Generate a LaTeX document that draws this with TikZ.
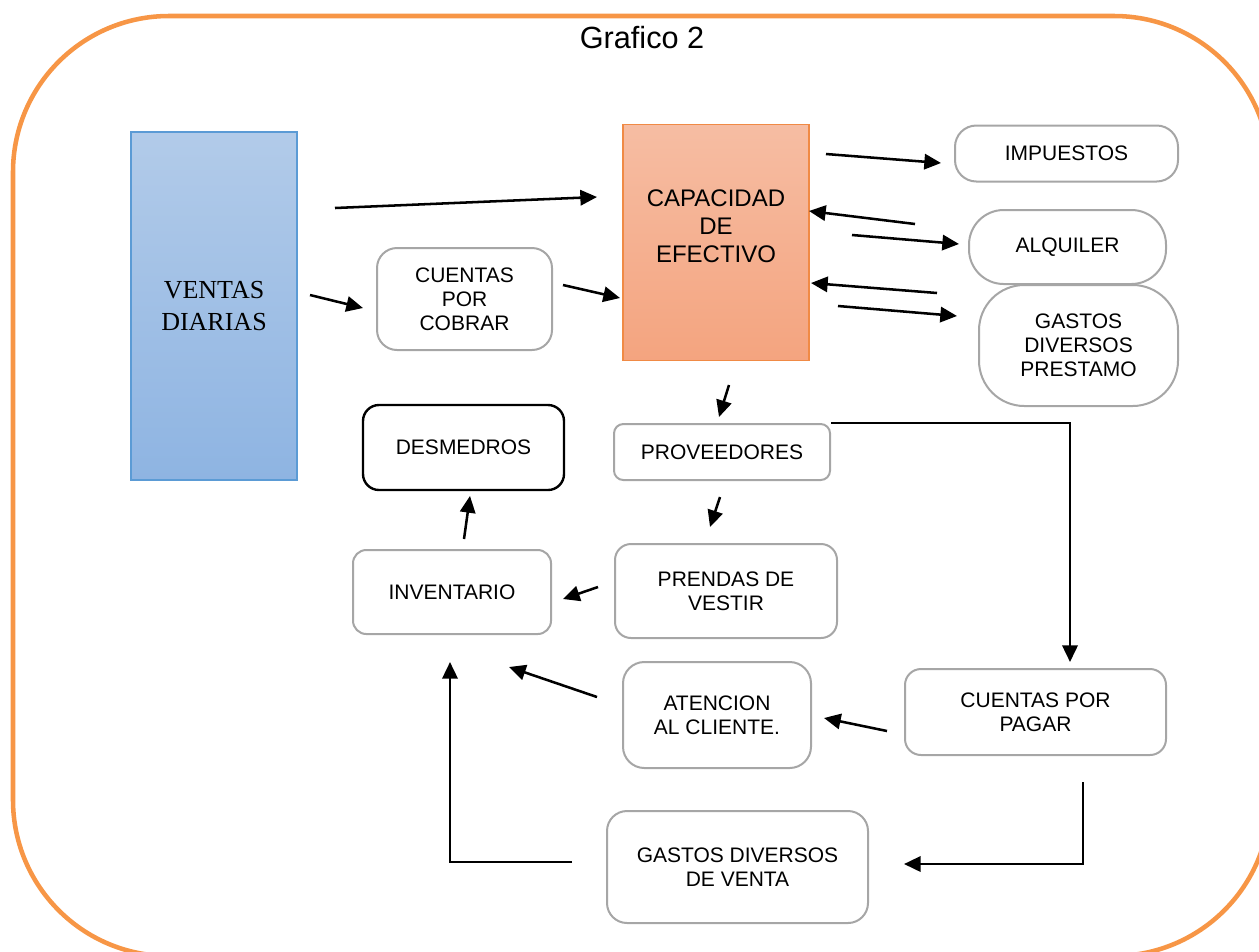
\documentclass[tikz,border=0pt]{standalone}
\usepackage{fontspec}
\setmainfont{Liberation Sans}
\newfontfamily\timesf{Liberation Serif}
\usetikzlibrary{arrows.meta}
\definecolor{frameor}{HTML}{F79646}
\definecolor{boxgray}{HTML}{A6A6A6}
\definecolor{bluetop}{HTML}{B2CBE9}
\definecolor{bluebot}{HTML}{8EB4E2}
\definecolor{blueedge}{HTML}{5B9BD5}
\definecolor{ortop}{HTML}{F6BDA3}
\definecolor{orbot}{HTML}{F4A47F}
\definecolor{oredge}{HTML}{F08A45}
\tikzset{
  sz/.style 2 args={minimum width=#1*0.75pt, minimum height=#2*0.75pt},
  gbox/.style={draw=boxgray, line width=1.5pt, fill=white, align=center, inner sep=0pt,
    font=\fontsize{15.75pt}{18pt}\selectfont},
  txt/.style={align=center, inner sep=0pt, font=\fontsize{15.75pt}{18pt}\selectfont},
  arr/.style={line width=1.9pt, -{Triangle[length=12.5pt,width=11.5pt]}},
}
\begin{document}
\begin{tikzpicture}[x=0.75pt,y=-0.75pt]
\useasboundingbox (0,0) rectangle (1259,951);
% frame
\draw[frameor, line width=3.4pt, rounded corners=117pt] (13,16) rectangle (1270,956);
\node[inner sep=0pt, font=\fontsize{23pt}{27pt}\selectfont] (title) at (642,38) {Grafico 2};

% left column
\node[sz={166}{348}, draw=blueedge, line width=0.8pt, top color=bluetop, bottom color=bluebot,
  align=center, inner sep=0pt, font=\timesf\fontsize{19.5pt}{24pt}\selectfont] (ventas) at (214,306) {VENTAS\\DIARIAS};
\node[gbox, sz={175}{102}, rounded corners=15pt] (cobrar) at (464.5,299) {CUENTAS\\POR\\COBRAR};

% capacidad
\node[sz={186}{236}, draw=oredge, line width=0.8pt, top color=ortop, bottom color=orbot, inner sep=0pt] (cap) at (716,242.5) {};
\node[inner sep=0pt, align=center, font=\fontsize{18pt}{21pt}\selectfont] (capt) at (716,226) {CAPACIDAD\\DE\\EFECTIVO};

% right column
\node[gbox, sz={223}{56}, rounded corners=16pt] (imp) at (1066.5,153.5) {IMPUESTOS};
\node[gbox, sz={197}{74}, rounded corners=26pt] (alq) at (1067.5,247) {ALQUILER};
\node[gbox, sz={199}{121}, rounded corners=34pt] (gdp) at (1078.5,345.5) {GASTOS\\DIVERSOS\\PRESTAMO};

% middle
\node[gbox, sz={216}{56}, rounded corners=7pt] (prov) at (722,452) {PROVEEDORES};
\node[draw=black, line width=1.8pt, fill=white, txt, sz={201}{85}, rounded corners=12pt] (desm) at (463.5,447.5) {DESMEDROS};
\node[gbox, sz={198}{84}, rounded corners=10pt] (inv) at (452,592) {INVENTARIO};
\node[gbox, sz={222}{94}, rounded corners=12pt] (prend) at (726,591) {PRENDAS DE\\VESTIR};
\node[gbox, sz={188}{106}, rounded corners=16pt] (aten) at (717,715) {ATENCION\\AL CLIENTE.};
\node[gbox, sz={261}{86}, rounded corners=12pt] (cpp) at (1035.5,712) {CUENTAS POR\\PAGAR};
\node[gbox, sz={261}{112}, rounded corners=15pt] (gdv) at (737.5,867) {GASTOS DIVERSOS\\DE VENTA};

% arrow end points
\coordinate (a1s) at (335,208);  \coordinate (a1e) at (597,197);
\coordinate (a2s) at (310,295);  \coordinate (a2e) at (363,308);
\coordinate (a3s) at (563,285);  \coordinate (a3e) at (620,298);
\coordinate (a4s) at (826,154);  \coordinate (a4e) at (941,163);
\coordinate (a5s) at (915,224);  \coordinate (a5e) at (809,211);
\coordinate (a6s) at (852,235);  \coordinate (a6e) at (959,244);
\coordinate (a7s) at (937,293);  \coordinate (a7e) at (811,283);
\coordinate (a8s) at (838,306);  \coordinate (a8e) at (957,316);
\coordinate (a9s) at (729,385);  \coordinate (a9e) at (719,417);
\coordinate (a10s) at (720,497); \coordinate (a10e) at (710,527);
\coordinate (a11s) at (598,587); \coordinate (a11e) at (563,599);
\coordinate (a12s) at (464,539); \coordinate (a12e) at (470,496);
\coordinate (a13e) at (1070,662);
\coordinate (a14s) at (887,731); \coordinate (a14e) at (824,718);
\coordinate (a15s) at (597,697); \coordinate (a15e) at (509,667);
\coordinate (a16s) at (1083,782); \coordinate (a16e) at (904,864);
\coordinate (a17s) at (572,862); \coordinate (a17e) at (450,662);

\draw[arr] (a1s) -- (a1e);
\draw[arr] (a2s) -- (a2e);
\draw[arr] (a3s) -- (a3e);
\draw[arr] (a4s) -- (a4e);
\draw[arr] (a5s) -- (a5e);
\draw[arr] (a6s) -- (a6e);
\draw[arr] (a7s) -- (a7e);
\draw[arr] (a8s) -- (a8e);
\draw[arr] (a9s) -- (a9e);
\draw[arr] (a10s) -- (a10e);
\draw[arr] (a11s) -- (a11e);
\draw[arr] (a12s) -- (a12e);
\draw[arr] (prov.north east) -| (a13e);
\draw[arr] (a14s) -- (a14e);
\draw[arr] (a15s) -- (a15e);
\draw[arr] (a16s) |- (a16e);
\draw[arr] (a17s) -| (a17e);
\end{tikzpicture}
\end{document}
